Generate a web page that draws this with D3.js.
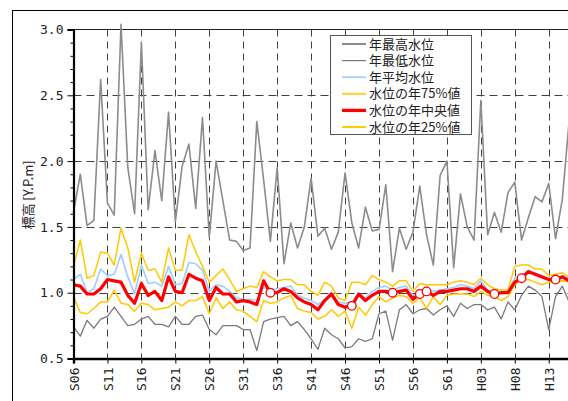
<!DOCTYPE html>
<html>
<head>
<meta charset="utf-8">
<script src="https://cdn.jsdelivr.net/npm/d3@7"></script>
<style>
  body { margin: 0; background: #fff; }
  svg { display: block; }
</style>
</head>
<body>
<div id="chart"></div>
<script>
// years S06 (1931) .. H16 (2004)
var years = d3.range(1931, 2005);

// tick labels on the x axis
var tickYears = [1931, 1936, 1941, 1946, 1951, 1956, 1961, 1966, 1971, 1976, 1981, 1986, 1991, 1996, 2001];
var tickNames = ["S06", "S11", "S16", "S21", "S26", "S31", "S36", "S41", "S46", "S51", "S56", "S61", "H03", "H08", "H13"];

// y ticks
var yMajor = [0.5, 1.0, 1.5, 2.0, 2.5, 3.0];
var yMinor = [0.6, 0.7, 0.8, 0.9, 1.1, 1.2, 1.3, 1.4, 1.6, 1.7, 1.8, 1.9, 2.1, 2.2, 2.3, 2.4, 2.6, 2.7, 2.8, 2.9];

// 年最高水位
var maxLevel = [1.61, 1.90, 1.51, 1.55, 2.62, 1.68, 1.59, 3.04, 1.95, 1.60,
                2.90, 1.63, 2.08, 1.70, 2.37, 1.54, 1.96, 2.13, 1.64, 2.33,
                1.42, 2.00, 1.70, 1.40, 1.39, 1.32, 1.34, 2.30, 1.86, 1.39,
                1.95, 1.22, 1.53, 1.34, 1.50, 1.87, 1.43, 1.49, 1.33, 1.46,
                1.91, 1.53, 1.34, 1.65, 1.47, 1.48, 1.82, 1.16, 1.49, 1.33,
                1.46, 1.81, 1.44, 1.21, 1.89, 2.00, 1.19, 1.75, 1.50, 1.40,
                2.46, 1.44, 1.61, 1.46, 1.76, 1.84, 1.40, 1.57, 1.73, 1.69,
                1.83, 1.41, 1.71, 2.30];
// 年最低水位
var minLevel = [0.74, 0.67, 0.79, 0.73, 0.80, 0.82, 0.89, 0.82, 0.75, 0.76,
                0.80, 0.82, 0.76, 0.76, 0.74, 0.82, 0.76, 0.76, 0.82, 0.83,
                0.72, 0.68, 0.75, 0.75, 0.75, 0.72, 0.72, 0.56, 0.78, 0.80,
                0.81, 0.82, 0.75, 0.78, 0.72, 0.65, 0.57, 0.73, 0.68, 0.65,
                0.58, 0.59, 0.65, 0.63, 0.65, 0.84, 0.86, 0.64, 0.87, 0.91,
                0.84, 0.87, 0.88, 0.83, 0.87, 0.90, 0.82, 0.92, 0.88, 0.91,
                0.91, 0.87, 0.89, 0.80, 0.93, 0.87, 0.98, 1.05, 1.02, 0.97,
                0.72, 0.97, 1.05, 0.93];
// 年平均水位
var meanLevel = [1.10, 1.14, 1.00, 1.03, 1.18, 1.13, 1.14, 1.29, 1.12, 0.99,
                 1.21, 1.07, 1.08, 1.05, 1.20, 1.06, 1.07, 1.23, 1.22, 1.17,
                 1.01, 1.06, 1.05, 1.01, 0.96, 0.95, 0.95, 0.94, 1.04, 1.02,
                 1.03, 1.04, 1.05, 0.98, 0.96, 0.94, 0.91, 0.95, 1.00, 0.93,
                 0.92, 0.93, 0.99, 0.96, 1.01, 1.04, 1.05, 1.02, 1.04, 1.05,
                 0.98, 1.00, 1.02, 1.01, 1.02, 1.03, 1.04, 1.06, 1.05, 1.03,
                 1.09, 1.02, 1.01, 1.01, 1.01, 1.11, 1.13, 1.17, 1.15, 1.13,
                 1.11, 1.11, 1.13, 1.11];
// 水位の年75%値
var q75Level = [1.20, 1.40, 1.11, 1.13, 1.31, 1.30, 1.21, 1.49, 1.34, 1.08,
                1.30, 1.17, 1.18, 1.08, 1.34, 1.17, 1.17, 1.44, 1.31, 1.20,
                1.08, 1.13, 1.18, 1.10, 1.01, 1.03, 1.05, 1.04, 1.16, 1.12,
                1.09, 1.10, 1.10, 1.06, 1.06, 1.01, 0.98, 1.08, 1.05, 0.96,
                0.94, 1.08, 1.08, 1.06, 1.13, 1.10, 1.08, 1.05, 1.09, 1.09,
                1.01, 1.07, 1.06, 1.06, 1.06, 1.06, 1.08, 1.09, 1.08, 1.06,
                1.11, 1.06, 1.03, 1.02, 1.02, 1.20, 1.21, 1.21, 1.18, 1.18,
                1.13, 1.14, 1.15, 1.12];
// 水位の年中央値
var medLevel = [1.06, 1.05, 0.99, 0.99, 1.03, 1.10, 1.09, 1.08, 0.98, 0.92,
                1.07, 0.98, 1.01, 0.94, 1.12, 1.01, 1.00, 1.14, 1.11, 1.09,
                0.94, 1.04, 0.99, 0.99, 0.93, 0.94, 0.93, 0.91, 1.09, 1.00,
                1.00, 1.03, 1.01, 0.96, 0.93, 0.91, 0.87, 0.94, 0.99, 0.91,
                0.89, 0.90, 0.99, 0.94, 0.98, 1.01, 1.01, 1.00, 1.01, 1.02,
                0.95, 0.99, 1.01, 0.98, 1.01, 1.01, 1.02, 1.03, 1.03, 1.01,
                1.05, 1.01, 0.99, 1.00, 1.00, 1.08, 1.11, 1.16, 1.14, 1.12,
                1.10, 1.10, 1.12, 1.09];
// 水位の年25%値
var q25Level = [0.97, 0.85, 0.84, 0.88, 0.93, 0.93, 1.02, 0.92, 0.91, 0.86,
                0.92, 0.91, 0.87, 0.88, 0.89, 0.93, 0.90, 0.94, 0.94, 0.97,
                0.84, 0.96, 0.88, 0.93, 0.87, 0.86, 0.82, 0.78, 0.94, 0.92,
                0.93, 0.96, 0.98, 0.88, 0.86, 0.85, 0.80, 0.82, 0.87, 0.82,
                0.86, 0.73, 0.89, 0.83, 0.91, 0.97, 0.93, 0.96, 0.98, 0.97,
                0.92, 0.96, 0.88, 0.97, 0.91, 0.98, 0.99, 0.99, 0.99, 0.97,
                1.01, 0.98, 0.97, 0.94, 0.97, 1.06, 1.10, 1.10, 1.08, 1.06,
                1.08, 1.08, 1.09, 1.08];
// years marked with a circle on the median line
var markYears = [1960, 1972, 1978, 1982, 1983, 1993, 1997, 2002];

var W = 568, H = 401;
var plotLeft = 73.5, plotTop = 29.5, plotBottom = 358.5, plotRight = 569.1;

var svg = d3.select("#chart").append("svg")
    .attr("width", W)
    .attr("height", H);

svg.append("rect").attr("width", W).attr("height", H).attr("fill", "#fff");

// outer frame
svg.append("rect")
    .attr("x", 12.5).attr("y", 10.5)
    .attr("width", 700).attr("height", 500)
    .attr("fill", "none").attr("stroke", "#000").attr("stroke-width", 1);

var x = d3.scaleLinear().domain([1931, 2004]).range([plotLeft, plotRight]);
var y = d3.scaleLinear().domain([0.5, 3.0]).range([plotBottom, plotTop]);

// dashed grid
svg.append("g").selectAll("line")
    .data(tickYears.slice(1))
    .enter().append("line")
        .attr("x1", function(d) { return Math.round(x(d)) + 0.5; })
        .attr("x2", function(d) { return Math.round(x(d)) + 0.5; })
        .attr("y1", plotTop).attr("y2", plotBottom)
        .attr("stroke", "#404040").attr("stroke-width", 1)
        .attr("stroke-dasharray", "7,5");

svg.append("g").selectAll("line")
    .data([1.0, 1.5, 2.0, 2.5])
    .enter().append("line")
        .attr("x1", plotLeft).attr("x2", plotRight)
        .attr("y1", function(d) { return Math.round(y(d)) + 0.5; })
        .attr("y2", function(d) { return Math.round(y(d)) + 0.5; })
        .attr("stroke", "#404040").attr("stroke-width", 1)
        .attr("stroke-dasharray", "8,5");

// top border of plot
svg.append("line")
    .attr("x1", plotLeft).attr("x2", plotRight)
    .attr("y1", plotTop).attr("y2", plotTop)
    .attr("stroke", "#222").attr("stroke-width", 1);

// series lines
var series = [
    {values: maxLevel,  color: "#8c8c8c", width: 1.6},
    {values: minLevel,  color: "#7a7a7a", width: 1.3},
    {values: meanLevel, color: "#9fcdff", width: 1.6},
    {values: q75Level,  color: "#ffc800", width: 1.5},
    {values: q25Level,  color: "#ffc800", width: 1.5},
    {values: medLevel,  color: "#ff0000", width: 3.2}
];

var line = d3.line()
    .x(function(d, i) { return x(years[i]); })
    .y(function(d) { return y(d); });

series.forEach(function(s) {
    svg.append("path")
        .datum(s.values)
        .attr("d", line)
        .attr("fill", "none")
        .attr("stroke", s.color)
        .attr("stroke-width", s.width)
        .attr("stroke-linejoin", "round");
});

// circles on the median
svg.append("g").selectAll("circle")
    .data(markYears)
    .enter().append("circle")
        .attr("cx", function(d) { return x(d); })
        .attr("cy", function(d) { return y(medLevel[years.indexOf(d)]); })
        .attr("r", 4.3)
        .attr("fill", "#fff")
        .attr("stroke", "#ff0000")
        .attr("stroke-width", 1.3);

// y axis
var yAxis = svg.append("g")
    .attr("transform", "translate(" + plotLeft + ",0)")
    .call(d3.axisLeft(y).tickValues(yMajor).tickSize(6).tickPadding(4)
        .tickFormat(d3.format(".1f")));
yAxis.select(".domain").attr("stroke", "#000").attr("stroke-width", 2.2);
yAxis.selectAll(".tick line").attr("stroke", "#000").attr("stroke-width", 1);
yAxis.selectAll("text")
    .style("font-family", "'DejaVu Sans Mono', monospace")
    .style("font-size", "13px")
    .attr("fill", "#222");

svg.append("g")
    .attr("transform", "translate(" + plotLeft + ",0)")
    .call(d3.axisLeft(y).tickValues(yMinor).tickSize(3).tickFormat(""))
    .call(function(g) { g.select(".domain").remove(); });

// x axis
var xAxis = svg.append("g")
    .attr("transform", "translate(0," + plotBottom + ")")
    .call(d3.axisBottom(x).tickValues(tickYears).tickSize(5)
        .tickFormat(function(d, i) { return tickNames[i]; }));
xAxis.select(".domain").attr("stroke", "#000").attr("stroke-width", 2.4);
xAxis.selectAll(".tick line").attr("stroke", "#000");
xAxis.selectAll("text")
    .attr("transform", "rotate(-90)")
    .attr("x", -9)
    .attr("y", 0)
    .attr("dy", "0.35em")
    .style("text-anchor", "end")
    .style("font-family", "'DejaVu Sans Mono', monospace")
    .style("font-size", "13px")
    .attr("fill", "#222");

// y label
svg.append("text")
    .attr("transform", "translate(28,195) rotate(-90)")
    .attr("text-anchor", "middle")
    .attr("dy", "0.35em")
    .style("font-family", "'Noto Sans CJK JP', sans-serif")
    .style("font-size", "13px")
    .attr("fill", "#222")
    .text("標高 [Y.P.m]");

// legend
var legendNames = ["年最高水位", "年最低水位", "年平均水位", "水位の年75%値", "水位の年中央値", "水位の年25%値"];
var legendStyle = [
    {color: "#8c8c8c", width: 2},
    {color: "#7a7a7a", width: 1.2},
    {color: "#aad4ff", width: 2},
    {color: "#ffcc33", width: 2},
    {color: "#ff0000", width: 3.3},
    {color: "#ffcc00", width: 2}
];

var legend = svg.append("g");
legend.append("rect")
    .attr("x", 330.5).attr("y", 35.5)
    .attr("width", 141).attr("height", 99)
    .attr("fill", "#fff").attr("stroke", "#555").attr("stroke-width", 1);

legendNames.forEach(function(name, i) {
    var ly = 44 + i * 16.6;
    legend.append("line")
        .attr("x1", 342).attr("x2", 366)
        .attr("y1", ly).attr("y2", ly)
        .attr("stroke", legendStyle[i].color)
        .attr("stroke-width", legendStyle[i].width);
    legend.append("text")
        .attr("x", 369).attr("y", ly)
        .attr("dy", "0.35em")
        .style("font-family", "'Noto Sans CJK JP', sans-serif")
        .style("font-size", "13px")
        .attr("fill", "#222")
        .text(name);
});
</script>
</body>
</html>
